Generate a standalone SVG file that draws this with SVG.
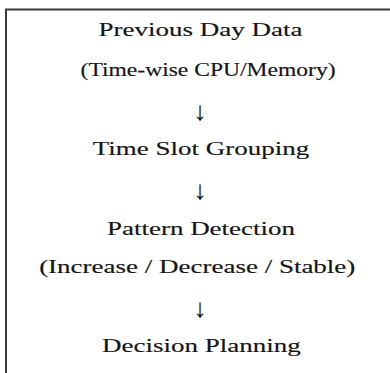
<svg xmlns="http://www.w3.org/2000/svg" width="390" height="373" viewBox="0 0 390 373">
  <defs>
    <style>
      .frame { fill: none; stroke: #3a3a3a; stroke-width: 2; }
      .label { fill: #151515; stroke: #151515; stroke-width: 0.15; text-anchor: middle; }
      .arrow { fill: #151515; stroke: #151515; stroke-width: 0.2; text-anchor: middle; }
    </style>
  </defs>
  <rect width="390" height="373" fill="#ffffff"/>
  <!-- open frame: top and left edges only -->
  <path class="frame" d="M6 373 V9.5 H390"/>

  <!-- labels are drawn wide: x coordinates are divided by the 1.5 horizontal stretch -->
  <g id="previous-day-data" transform="scale(1.5,1)" font-family="Liberation Serif, serif" font-size="18">
    <text class="label" x="133.7" y="36">Previous Day Data</text>
    <text class="label" x="138.7" y="76.5" textLength="170" lengthAdjust="spacingAndGlyphs">(Time-wise CPU/Memory)</text>
  </g>

  <g id="time-slot-grouping" transform="scale(1.5,1)" font-family="Liberation Serif, serif" font-size="18">
    <text class="label" x="134" y="155.5">Time Slot Grouping</text>
  </g>

  <g id="pattern-detection" transform="scale(1.5,1)" font-family="Liberation Serif, serif" font-size="18">
    <text class="label" x="134" y="235">Pattern Detection</text>
    <text class="label" x="131.5" y="273.5">(Increase / Decrease / Stable)</text>
  </g>

  <g id="decision-planning" transform="scale(1.5,1)" font-family="Liberation Serif, serif" font-size="18">
    <text class="label" x="134.3" y="352.5">Decision Planning</text>
  </g>

  <g id="connectors" font-family="Liberation Serif, serif" font-size="26">
    <text class="arrow" x="200" y="119.5">↓</text>
    <text class="arrow" x="200" y="198.5">↓</text>
    <text class="arrow" x="200" y="316.5">↓</text>
  </g>
</svg>
